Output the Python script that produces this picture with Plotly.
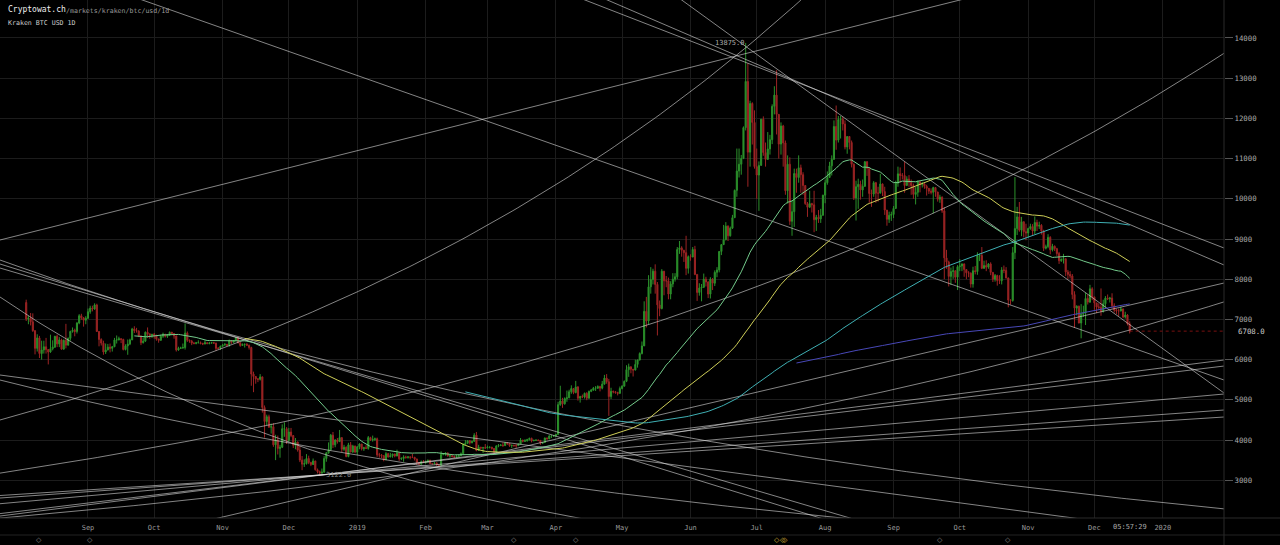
import numpy as np
import pandas as pd
import plotly.graph_objects as go

# ---------------- data (Kraken BTC/USD daily) ----------------
START = "2018-08-04"

OPEN = [
    # Aug 2018 (from 4th)
    7420,7010,7030,6940,6720,6280,6540,6150,6240,6320,6250,6190,6270,6310,6580,6390,6490,6260,6480,6360,6530,6700,6730,6700,6910,7090,7040,6980,
    # Sep
    7030,7190,7280,7260,7360,6700,6500,6410,6190,6240,6310,6280,6320,6490,6490,6520,6500,6250,6340,6390,6490,6760,6720,6710,6590,6420,6460,6680,6640,6600,
    # Oct
    6630,6590,6510,6480,6580,6630,6580,6610,6680,6650,6590,6240,6280,6290,6300,6660,6480,6460,6410,6400,6420,6420,6400,6390,6420,6400,6410,6420,6410,6280,6280,
    # Nov
    6330,6360,6380,6360,6470,6430,6470,6540,6420,6350,6380,6380,6360,6300,5640,5580,5520,5510,5570,4810,4460,4580,4320,4330,3880,4000,3790,3820,4280,4280,
    # Dec
    3990,4200,4110,3870,3950,3750,3500,3400,3410,3540,3440,3390,3480,3260,3210,3180,3200,3540,3680,3760,4120,3880,4000,3960,4060,3770,3820,3590,3880,3700,3850,
    # Jan 2019
    3700,3830,3900,3780,3810,3790,4060,4000,4010,4030,3630,3630,3610,3510,3660,3580,3610,3650,3600,3680,3530,3540,3580,3560,3580,3570,3570,3530,3440,3400,3460,
    # Feb
    3440,3460,3500,3410,3410,3430,3380,3370,3640,3640,3680,3600,3610,3590,3570,3590,3610,3660,3890,3920,3980,3930,3970,4120,3740,3820,3800,3810,
    # Mar
    3800,3820,3820,3790,3700,3850,3860,3870,3860,3930,3910,3860,3870,3860,3860,3900,4000,3970,3980,4010,4040,3980,3990,4000,3990,3920,3940,4050,4030,4100,4100,
    # Apr
    4100,4140,4880,4970,4900,5030,5050,5200,5280,5180,5320,5040,5080,5070,5160,5040,5210,5240,5290,5290,5330,5290,5390,5540,5450,5080,5210,5200,5180,5160,
    # May
    5280,5340,5460,5750,5820,5760,5740,5880,5990,6150,6340,7200,6960,7810,7990,8200,7870,7360,7270,8200,7960,7960,7630,7880,8000,8060,8740,8780,8720,8660,8270,
    # Jun
    8560,8550,8740,8120,7670,7780,7800,8000,7930,7630,8000,7900,8170,8230,8690,8860,8980,9320,9080,9270,9530,10210,10690,10860,11000,11770,12920,11160,12370,11900,
    # Jul
    10800,10590,10830,11980,11150,10980,11240,11470,12300,12580,12100,11360,11810,11390,10200,10860,9440,9680,10630,10530,10770,10600,10330,9880,9790,9880,9850,9480,9540,9500,9590,
    # Aug
    10090,10400,10530,10820,10980,11800,11460,11970,11980,11860,11290,11550,11400,10860,10020,10300,10360,10220,10310,10920,10760,10130,10120,10400,10140,10140,10370,10180,9720,9490,9590,
    # Sep
    9610,9760,10390,10620,10580,10580,10330,10490,10410,10330,10110,10160,10420,10360,10370,10310,10260,10190,10160,10280,10170,9990,10040,9700,8530,8430,8070,8190,8210,8050,
    # Oct
    8310,8330,8380,8240,8160,8150,7880,8210,8190,8590,8590,8270,8340,8300,8380,8170,8000,8090,7970,7960,8230,8220,8030,7480,7470,8660,9260,9550,9220,9430,9180,
    # Nov
    9150,9260,9310,9200,9410,9320,9340,9200,8770,8810,9040,8730,8820,8760,8640,8460,8490,8510,8180,8120,8080,7620,7280,7330,6910,7130,7160,7520,7430,7760,
    # Dec (to 17th)
    7560,7410,7310,7300,7200,7390,7530,7510,7530,7340,7230,7210,7210,7260,7060,7110,6890,
]

HIGH = [
    7490,7090,7160,7150,6730,6630,6590,6470,6470,6540,6260,6620,6480,6590,6620,6560,6520,6500,6890,6550,6720,6800,6770,6930,7130,7140,7060,7080,
    7270,7340,7340,7400,7390,6710,6530,6470,6400,6390,6400,6340,6540,6600,6570,6530,6520,6380,6500,6520,6790,6830,6790,6730,6590,6550,6700,6800,6650,6640,
    6660,6620,6520,6620,6670,6640,6630,6700,6690,6650,6590,6320,6320,6400,6900,6700,6500,6490,6440,6440,6480,6450,6420,6480,6430,6440,6440,6440,6420,6310,6350,
    6390,6410,6390,6500,6480,6480,6560,6560,6430,6400,6400,6410,6370,6320,5700,5590,5540,5640,5580,4860,4630,4630,4410,4420,4130,4110,3880,4390,4440,4320,
    4300,4300,4120,4050,3960,3850,3600,3520,3650,3610,3460,3540,3480,3290,3240,3290,3600,3700,3940,4150,4200,4020,4050,4250,4060,3880,3840,3930,3950,3880,3860,
    3850,3920,3900,3830,3870,4100,4080,4110,4060,4060,3680,3650,3620,3700,3680,3680,3660,3660,3760,3700,3570,3620,3610,3600,3590,3660,3580,3530,3450,3490,3500,
    3490,3510,3500,3430,3440,3440,3400,3720,3670,3690,3680,3640,3640,3610,3630,3640,3690,3920,4000,3990,4000,3980,4170,4200,3880,3830,3830,3900,
    3860,3840,3830,3800,3870,3900,3900,3940,3950,3940,3920,3880,3880,3900,3910,4050,4000,4020,4030,4060,4060,4010,4010,4010,3990,3950,4060,4060,4120,4130,4110,
    4150,4950,5350,5050,5060,5230,5250,5360,5290,5470,5340,5100,5130,5180,5190,5230,5270,5320,5340,5360,5350,5470,5620,5640,5520,5300,5230,5220,5200,5330,
    5360,5480,5860,5900,5830,5760,6000,6000,6180,6450,7450,7560,8100,8300,8260,8370,7930,7470,8250,8200,8080,8040,7950,8150,8150,8800,8950,8820,8730,9080,8590,
    8620,8800,8830,8120,7900,7880,8140,8060,7950,8050,8030,8220,8300,8700,8870,9350,9420,9340,9310,9600,10230,11250,11250,11090,11800,13875,13370,12440,12400,12200,
    11250,10930,11980,12050,11400,11660,11590,12350,12800,13200,12100,11900,11840,11450,11080,11030,9950,10750,10750,11080,10850,10660,10330,9920,10200,9900,10200,9600,9720,9750,10100,
    10480,10680,10920,11080,11950,12320,12060,12060,12040,11950,11550,11550,11450,10880,10450,10500,10450,10480,10940,10940,10770,10230,10440,10420,10300,10620,10380,10300,9720,9680,9680,
    9820,10450,10800,10780,10640,10920,10560,10590,10480,10380,10290,10460,10440,10420,10390,10350,10270,10260,10300,10280,10170,10100,10060,9790,8730,8460,8290,8330,8220,8350,
    8500,8390,8390,8240,8200,8170,8310,8330,8670,8640,8800,8460,8470,8400,8420,8170,8130,8110,8100,8300,8340,8300,8040,7500,8800,10540,9800,9920,9550,9430,9380,
    9280,9380,9370,9560,9480,9430,9370,9230,8860,9120,9070,8880,8840,8780,8680,8520,8630,8510,8230,8200,8130,7700,7350,7340,7380,7340,7660,7620,7860,7800,
    7560,7410,7400,7770,7490,7580,7620,7560,7650,7400,7270,7270,7320,7270,7190,7130,6950,
]

LOW = [
    6960,6880,6850,6690,6130,6200,6040,6000,6150,6150,5880,6170,6230,6290,6310,6310,6250,6250,6280,6350,6470,6670,6580,6650,6880,6990,6820,6880,
    7010,7140,7200,7240,6690,6330,6350,6120,6140,6230,6180,6200,6310,6400,6480,6410,6230,6230,6120,6360,6490,6660,6670,6560,6360,6400,6440,6540,6520,6540,
    6520,6470,6420,6470,6540,6550,6540,6590,6610,6520,6200,6220,6270,6270,6250,6440,6420,6360,6380,6380,6410,6380,6360,6380,6380,6380,6400,6390,6220,6260,6240,
    6320,6350,6330,6320,6390,6410,6460,6400,6320,6340,6300,6340,6250,5350,5190,5400,5440,5480,4680,4060,4370,4300,4160,3830,3500,3640,3560,3800,4080,3900,
    3960,4070,3800,3770,3710,3450,3250,3330,3390,3400,3350,3380,3240,3170,3122,3160,3190,3460,3660,3740,3800,3820,3910,3960,3700,3730,3570,3570,3700,3680,3670,
    3630,3770,3740,3730,3780,3760,3980,3960,3980,3580,3560,3550,3470,3500,3560,3570,3560,3570,3600,3480,3500,3460,3540,3540,3520,3550,3490,3380,3380,3390,3430,
    3410,3440,3400,3390,3400,3360,3360,3360,3620,3610,3590,3560,3570,3550,3560,3580,3600,3650,3860,3900,3890,3920,3950,3720,3730,3780,3680,3780,
    3800,3790,3760,3680,3690,3820,3850,3830,3860,3880,3830,3800,3830,3800,3850,3900,3940,3950,3960,3990,3940,3970,3980,3970,3880,3900,3930,4010,4020,4050,4080,
    4080,4140,4850,4800,4880,4950,5040,5150,5140,5160,4980,4930,5040,5030,4990,5030,5190,5230,5220,5270,5210,5260,5380,5400,4600,5020,5160,5150,5110,5150,
    5260,5330,5440,5570,5660,5580,5730,5800,5980,6130,6340,6800,6880,7640,7870,7640,6600,7080,7250,7600,7800,7500,7500,7800,7940,8000,8630,8560,8430,8100,8140,
    8460,8550,8100,7460,7590,7450,7780,7820,7530,7520,7730,7830,8050,8170,8600,8850,8970,8950,9060,9250,9530,10050,10530,10600,10990,11700,10300,10800,11350,10750,
    10000,9700,10830,11070,10800,10980,11100,11360,12100,11600,11000,11100,10800,10100,9880,9350,9080,9300,10150,10400,10150,10100,9850,9550,9780,9660,9170,9200,9400,9400,9580,
    9890,10350,10520,10580,10980,11220,11400,11500,11700,11230,11120,11230,10780,9970,9460,9750,9980,10050,10300,10570,9900,9800,10050,9900,9930,10140,10070,9600,9330,9400,9450,
    9520,9750,10300,10400,10480,10150,10330,10300,10100,10000,9860,10050,10160,10280,10250,10080,10120,10110,9640,10050,9930,9900,9650,8000,8260,7820,7860,8010,7910,7730,
    8200,8200,8060,8000,8050,7790,7790,8120,8110,8450,8250,8260,8200,8260,8100,7930,7940,7840,7880,7870,8150,8020,7300,7370,7440,8500,9100,9180,9070,9040,8970,
    9030,9230,9080,9120,9200,9250,9110,8700,8740,8770,8620,8690,8700,8580,8380,8430,8390,8080,8000,8020,7500,6790,7100,6900,6530,7060,6860,7370,7410,7480,
    7240,7160,7240,7090,7170,7290,7480,7420,7270,7170,7130,7080,7200,7030,7020,6850,6650,
]

CLOSE = [
    7010,7030,6940,6720,6280,6540,6150,6240,6320,6250,6190,6270,6310,6580,6390,6490,6260,6480,6360,6530,6700,6730,6700,6910,7090,7040,6980,7030,
    7190,7280,7260,7360,6700,6500,6410,6190,6240,6310,6280,6320,6490,6490,6520,6500,6250,6340,6390,6490,6760,6720,6710,6590,6420,6460,6680,6640,6600,6630,
    6590,6510,6480,6580,6630,6580,6610,6680,6650,6590,6240,6280,6290,6300,6660,6480,6460,6410,6400,6420,6420,6400,6390,6420,6400,6410,6420,6410,6280,6280,6330,
    6360,6380,6360,6470,6430,6470,6540,6420,6350,6380,6380,6360,6300,5640,5580,5520,5510,5570,4810,4460,4580,4320,4330,3880,4000,3790,3820,4280,4280,3990,
    4200,4110,3870,3950,3750,3500,3400,3410,3540,3440,3390,3480,3260,3210,3180,3200,3540,3680,3760,4120,3880,4000,3960,4060,3770,3820,3590,3880,3700,3850,3700,
    3830,3900,3780,3810,3790,4060,4000,4010,4030,3630,3630,3610,3510,3660,3580,3610,3650,3600,3680,3530,3540,3580,3560,3580,3570,3570,3530,3440,3400,3460,3440,
    3460,3500,3410,3410,3430,3380,3370,3640,3640,3680,3600,3610,3590,3570,3590,3610,3660,3890,3920,3980,3930,3970,4120,3740,3820,3800,3810,3800,
    3820,3820,3790,3700,3850,3860,3870,3860,3930,3910,3860,3870,3860,3860,3900,4000,3970,3980,4010,4040,3980,3990,4000,3990,3920,3940,4050,4030,4100,4100,4100,
    4140,4880,4970,4900,5030,5050,5200,5280,5180,5320,5040,5080,5070,5160,5040,5210,5240,5290,5290,5330,5290,5390,5540,5450,5080,5210,5200,5180,5160,5280,
    5340,5460,5750,5820,5760,5740,5880,5990,6150,6340,7200,6960,7810,7990,8200,7870,7360,7270,8200,7960,7960,7630,7880,8000,8060,8740,8780,8720,8660,8270,8560,
    8550,8740,8120,7670,7780,7800,8000,7930,7630,8000,7900,8170,8230,8690,8860,8980,9320,9080,9270,9530,10210,10690,10860,11000,11770,12920,11160,12370,11900,10800,
    10590,10830,11980,11150,10980,11240,11470,12300,12580,12100,11360,11810,11390,10200,10860,9440,9680,10630,10530,10770,10600,10330,9880,9790,9880,9850,9480,9540,9500,9590,10090,
    10400,10530,10820,10980,11800,11460,11970,11980,11860,11290,11550,11400,10860,10020,10300,10360,10220,10310,10920,10760,10130,10120,10400,10140,10140,10370,10180,9720,9490,9590,9610,
    9760,10390,10620,10580,10580,10330,10490,10410,10330,10110,10160,10420,10360,10370,10310,10260,10190,10160,10280,10170,9990,10040,9700,8530,8430,8070,8190,8210,8050,8310,
    8330,8380,8240,8160,8150,7880,8210,8190,8590,8590,8270,8340,8300,8380,8170,8000,8090,7970,7960,8230,8220,8030,7480,7470,8660,9260,9550,9220,9430,9180,9150,
    9260,9310,9200,9410,9320,9340,9200,8770,8810,9040,8730,8820,8760,8640,8460,8490,8510,8180,8120,8080,7620,7280,7330,6910,7130,7160,7520,7430,7760,7560,
    7410,7310,7300,7200,7390,7530,7510,7530,7340,7230,7210,7210,7260,7060,7110,6890,6708,
]

MA_PERIODS = [50, 100, 200, 350]
LAST_PRICE = 6708.0
ATH_DATE, ATH_PRICE = "2019-06-26", 13875.0
LOW_DATE, LOW_PRICE = "2018-12-15", 3122.0

X_RANGE = ["2018-07-23 03:07", "2020-01-28 17:31"]
Y_RANGE = [2060, 14945]
Y_TICKS = [3000, 4000, 5000, 6000, 7000, 8000, 9000, 10000, 11000, 12000, 13000, 14000]
X_TICK_DATES = ["2018-09-01", "2018-10-01", "2018-11-01", "2018-12-01", "2019-01-01", "2019-02-01",
                "2019-03-01", "2019-04-01", "2019-05-01", "2019-06-01", "2019-07-01", "2019-08-01",
                "2019-09-01", "2019-10-01", "2019-11-01", "2019-12-01", "2020-01-01"]
X_TICK_TEXT = ["Sep", "Oct", "Nov", "Dec", "2019", "Feb", "Mar", "Apr", "May", "Jun", "Jul", "Aug",
               "Sep", "Oct", "Nov", "Dec", "2020"]

# user-drawn trend lines: price at the left and right edge of the view
LIN_LEFT = [8975, 16189, 20592, 21438, 27234, 791, 2109, 2169, 2415, 2557, 2619, 8378, 8278, 5617]
LIN_RIGHT = [16587, 5492, 8776, 8353, 5169, 7905, 5990, 5840, 5144, 4746, 4572, -1050, -677, 1561]
# lines drawn on a log scale (straight in log-price)
LOG_LEFT = [4498, 3176, 2057, 8477, 7557, 5492]
LOG_RIGHT = [28180, 13620, 7436, 2287, 481, 1320]

EVENT_DATES = ["2018-08-10", "2018-09-02", "2019-03-13", "2019-04-10", "2019-07-10",
               "2019-07-13", "2019-07-14", "2019-09-22", "2019-10-23"]
EVENT_GOLD = [False, False, False, False, True, True, True, False, False]
COUNTDOWN = "05:57:29"
COUNTDOWN_DATE = "2019-12-17"

# ---------------- figure ----------------
n = len(CLOSE)
assert len(OPEN) == n and len(HIGH) == n and len(LOW) == n
dates = pd.date_range(START, periods=n, freq="D")
close_s = pd.Series(CLOSE, index=dates, dtype=float)

MONO = "DejaVu Sans Mono"
PW, PH = 1224.0, 518.0

fig = go.Figure()

# trend lines
t0, t1 = pd.Timestamp(X_RANGE[0]), pd.Timestamp(X_RANGE[1])
lx, ly = [], []
for a, b in zip(LIN_LEFT, LIN_RIGHT):
    lx += [t0, t1, None]
    ly += [a, b, None]
ts = pd.date_range(t0, t1, periods=240)
for a, b in zip(LOG_LEFT, LOG_RIGHT):
    lx += list(ts) + [None]
    ly += list(np.geomspace(a, b, len(ts))) + [None]
fig.add_trace(go.Scatter(x=lx, y=ly, mode="lines", hoverinfo="skip",
                         line=dict(color="rgba(220,220,220,0.6)", width=1)))

# moving averages
ma_colors = {50: "#74cc8c", 100: "#cfcf58", 200: "#3fb0b4", 350: "#4848b8"}
for p in MA_PERIODS:
    ma = close_s.rolling(p).mean().dropna()
    fig.add_trace(go.Scatter(x=ma.index, y=ma.values, mode="lines", hoverinfo="skip",
                             line=dict(color=ma_colors[p], width=1)))

# candles
fig.add_trace(go.Candlestick(
    x=dates, open=OPEN, high=HIGH, low=LOW, close=CLOSE,
    increasing=dict(line=dict(color="#2b902b", width=1), fillcolor="#2b902b"),
    decreasing=dict(line=dict(color="#9c2424", width=1), fillcolor="#9c2424"),
    whiskerwidth=0, hoverinfo="skip"))

# last price line
fig.add_shape(type="line", xref="x", yref="y", x0=dates[-1], x1=t1, y0=LAST_PRICE, y1=LAST_PRICE,
              line=dict(color="#7a1010", width=1, dash="dot"))

def py(pix):
    return 1 - pix / PH

# frame lines outside the plot
fig.add_shape(type="line", xref="paper", yref="paper", x0=0, x1=1280 / PW, y0=0, y1=0,
              line=dict(color="#2a2a2a", width=1))
fig.add_shape(type="line", xref="paper", yref="paper", x0=0, x1=1280 / PW, y0=py(535), y1=py(535),
              line=dict(color="#222", width=1))
fig.add_shape(type="line", xref="paper", yref="paper", x0=1, x1=1, y0=py(545), y1=1,
              line=dict(color="#2a2a2a", width=1))

ann = []
ann.append(dict(xref="paper", yref="paper", x=6 / PW, y=py(10), text="Cryptowat.ch",
                font=dict(family=MONO, size=8, color="#eeeeee"), xanchor="left", yanchor="middle", showarrow=False))
ann.append(dict(xref="paper", yref="paper", x=64 / PW, y=py(11), text="/markets/kraken/btc/usd/1d",
                font=dict(family=MONO, size=6.6, color="#999999"), xanchor="left", yanchor="middle", showarrow=False))
ann.append(dict(xref="paper", yref="paper", x=6 / PW, y=py(23), text="Kraken BTC USD 1D",
                font=dict(family=MONO, size=6.6, color="#cccccc"), xanchor="left", yanchor="middle", showarrow=False))
ann.append(dict(xref="x", yref="y", x=ATH_DATE, y=ATH_PRICE, text=f"{ATH_PRICE:.1f}", xshift=1,
                font=dict(family=MONO, size=7, color="#aaaaaa"), xanchor="right", yanchor="middle", showarrow=False))
ann.append(dict(xref="x", yref="y", x=LOW_DATE, y=LOW_PRICE, text=f"{LOW_PRICE:.1f}", xshift=4,
                font=dict(family=MONO, size=7, color="#888888"), xanchor="left", yanchor="middle", showarrow=False))
ann.append(dict(xref="paper", yref="y", x=1236 / PW, y=LAST_PRICE, text=f"{LAST_PRICE:.1f}",
                font=dict(family=MONO, size=7.4, color="#cccccc"), xanchor="left", yanchor="middle", showarrow=False))
ann.append(dict(xref="x", yref="paper", x=COUNTDOWN_DATE, y=py(527), text=COUNTDOWN,
                font=dict(family=MONO, size=7, color="#aaaaaa"), xanchor="center", yanchor="middle", showarrow=False))
for d, g in zip(EVENT_DATES, EVENT_GOLD):
    ann.append(dict(xref="x", yref="paper", x=d, y=py(540), text="◇",
                    font=dict(family="DejaVu Sans", size=7, color="#d9b63a" if g else "#888888"),
                    xanchor="center", yanchor="middle", showarrow=False))

fig.update_layout(
    width=1280, height=545,
    margin=dict(l=0, r=56, t=0, b=27, pad=0),
    paper_bgcolor="#000000", plot_bgcolor="#000000",
    showlegend=False, annotations=ann,
    xaxis=dict(range=X_RANGE, type="date", tickvals=X_TICK_DATES, ticktext=X_TICK_TEXT,
               showgrid=True, gridcolor="#1c1c1c", gridwidth=1, zeroline=False,
               ticks="outside", ticklen=3, tickcolor="rgba(0,0,0,0)", showline=False,
               rangeslider=dict(visible=False),
               tickfont=dict(family=MONO, size=7, color="#999999")),
    yaxis=dict(range=Y_RANGE, side="right", tickvals=Y_TICKS, ticktext=[str(v) for v in Y_TICKS],
               showgrid=True, gridcolor="#1c1c1c", gridwidth=1, zeroline=False,
               ticks="outside", ticklen=8, tickcolor="#555555", showline=False,
               tickfont=dict(family=MONO, size=7.4, color="#aaaaaa")),
)

fig.write_html("out.html", config={"displayModeBar": False},
               post_script="document.body.style.margin='0';document.body.style.background='#000';")
